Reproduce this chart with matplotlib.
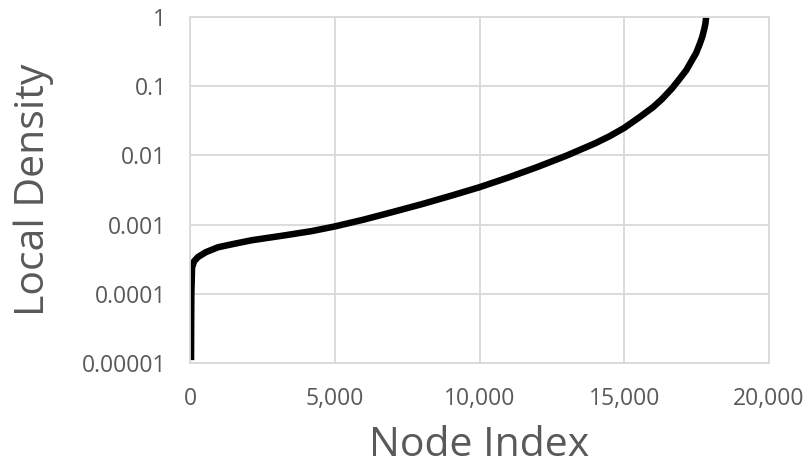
import matplotlib
matplotlib.use("Agg")
import matplotlib.pyplot as plt
from matplotlib.ticker import FuncFormatter, FixedLocator

# Local density of each node, sorted ascending
node_index = [35, 38, 45, 70, 140, 275, 550, 965, 1500, 2140, 3280, 4200,
              5000, 6000, 7000, 8000, 9000, 10000, 11000, 12000, 13000,
              14000, 14500, 15000, 15500, 16000, 16300, 16650, 16900,
              17140, 17320, 17480, 17600, 17690, 17760, 17800, 17830]
local_density = [1.1e-5, 3.0e-5, 1.0e-4, 2.4e-4, 2.95e-4, 3.4e-4, 4.0e-4,
                 4.7e-4, 5.25e-4, 5.95e-4, 7.0e-4, 8.05e-4, 9.4e-4, 1.18e-3,
                 1.52e-3, 1.97e-3, 2.6e-3, 3.47e-3, 4.8e-3, 6.8e-3, 9.9e-3,
                 1.5e-2, 1.9e-2, 2.5e-2, 3.5e-2, 5.0e-2, 6.5e-2, 9.3e-2,
                 0.126, 0.17, 0.23, 0.30, 0.40, 0.51, 0.66, 0.79, 1.0]

x_ticks = [0, 5000, 10000, 15000, 20000]
y_ticks = [1e-5, 1e-4, 1e-3, 1e-2, 1e-1, 1]
y_tick_labels = ["0.00001", "0.0001", "0.001", "0.01", "0.1", "1"]

text_color = "#595959"
grid_color = "#d9d9d9"
font = ["Open Sans", "DejaVu Sans"]

fig = plt.figure(figsize=(8.1, 4.7), dpi=100)
ax = fig.add_axes([0.2346, 0.2277, 0.9494 - 0.2346, 0.9638 - 0.2277])

ax.plot(node_index, local_density, color="black", linewidth=4.7,
        solid_capstyle="butt", solid_joinstyle="round")

ax.set_yscale("log")
ax.set_xlim(0, 20000)
ax.set_ylim(1e-5, 1)
ax.xaxis.set_major_locator(FixedLocator(x_ticks))
ax.xaxis.set_major_formatter(FuncFormatter(lambda v, p: f"{int(v):,}"))
ax.yaxis.set_major_locator(FixedLocator(y_ticks))
ax.yaxis.set_minor_locator(FixedLocator([]))
ax.set_yticklabels(y_tick_labels)

ax.grid(True, color=grid_color, linewidth=1.3)
ax.set_axisbelow(True)
for s in ax.spines.values():
    s.set_color(grid_color)
    s.set_linewidth(1.3)

ax.tick_params(axis="both", length=0, colors=text_color, labelsize=16.5)
ax.tick_params(axis="y", pad=17)
ax.tick_params(axis="x", pad=17)
for lab in ax.get_xticklabels() + ax.get_yticklabels():
    lab.set_family(font)

ax.set_xlabel("Node Index", fontsize=29.5, color=text_color, family=font, labelpad=11)
ax.set_ylabel("Local Density", fontsize=29.5, color=text_color, family=font, labelpad=20)

fig.savefig("out.png", dpi=100, facecolor="white")
